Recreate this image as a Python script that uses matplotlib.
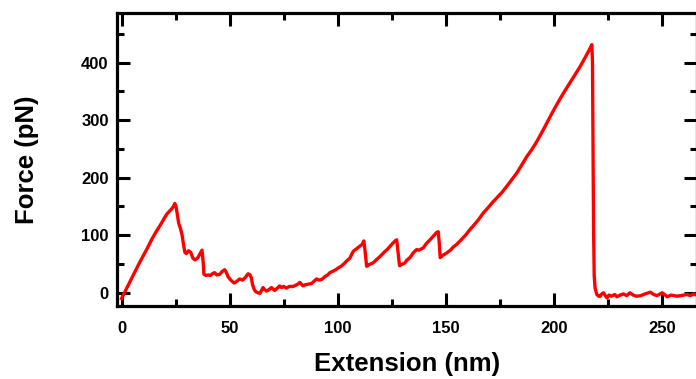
import matplotlib
matplotlib.use("Agg")
import matplotlib.pyplot as plt
from matplotlib.ticker import MultipleLocator

# Extension (nm) and Force (pN)
extension = [0, 2, 4, 6, 8, 10, 12, 14, 16, 18, 20, 21, 22, 23, 24, 24.6,
             25.2, 25.8, 26.4, 27.2, 28, 28.6, 29.3, 30, 31, 32, 33, 34, 35.3, 36.3, 37.2, 37.7,
             38.1, 39, 40, 41, 42, 43, 44, 45.4, 46.5, 47.7, 48.5, 49.2, 50.5, 52, 53, 54.6,
             56, 57.3, 58.5, 59.4, 60, 60.5, 61.3, 62, 63, 64, 65.4, 66, 67, 68, 69.3, 70.8,
             72, 73.1, 74, 75, 76.2, 77.5, 79.3, 80.5, 81.5, 82.4, 83.9, 85, 86.5, 87.8, 89,
             90.1, 91.3, 92.5, 94, 95.3, 96.3, 97.5, 99, 100.1, 101.5, 103, 104, 105.5, 107.1,
             108.5, 110.2, 111.2, 112, 112.5, 113.3, 114.5, 116.3, 118, 119.5, 121, 123, 124.9,
             126.4, 127.2, 127.7, 128.5, 130, 131, 132, 133.3, 135, 136.4, 137.5, 139.5, 141,
             142.6, 144, 145.7, 146.4, 146.9, 147.3, 148.5, 150.3, 152, 153.5, 154.9, 157, 159,
             161.1, 163, 165, 167.3, 169.5, 171.5, 173.5, 176, 178.1, 180.5, 182.7, 185, 187.4,
             189.7, 192, 194.5, 196.6, 199, 201.5, 204.3, 207, 209.5, 212, 214.5, 216.5, 217.4,
             217.7, 217.9, 218.2, 218.5, 218.9, 219.7, 220.5, 221.3, 222, 222.8, 223.6, 224.4,
             225.3, 226.5, 228, 229, 230.5, 232, 233.5, 235, 236.5, 238, 240, 242, 244.4, 246,
             247.5, 249.9, 251, 252.2, 254, 256.8, 258.5, 260, 261.4, 263, 264.5, 266]
force = [-10, 5, 20, 35, 50, 64, 78, 93, 106, 118, 131, 137, 141, 145, 150, 155,
         150, 135, 121, 112, 100, 85, 70, 68, 73, 70, 60, 57, 61, 68, 74, 55,
         32, 30, 31, 30, 33, 35, 31, 32, 37, 40, 35, 28, 22, 17, 19, 24,
         22, 27, 33, 31, 26, 15, 6, 2, 0, -1, 9, 6, 3, 5, 9, 4,
         8, 12, 9, 11, 8, 11, 11, 13, 15, 18, 12, 14, 15, 16, 20,
         24, 22, 23, 28, 31, 35, 37, 40, 43, 46, 51, 55, 60, 72,
         76, 81, 84, 90, 75, 46, 49, 52, 58, 63, 69, 76, 84,
         90, 92, 75, 47, 50, 52, 57, 61, 70, 75, 74, 78, 86,
         92, 98, 105, 106, 85, 61, 65, 69, 74, 80, 84, 92, 100,
         110, 118, 127, 139, 148, 157, 165, 175, 185, 197, 208, 222, 237,
         249, 263, 280, 295, 312, 329, 347, 363, 378, 393, 410, 424, 431,
         400, 284, 110, 29, 8, -3, -6, -6, -2, 0, -5, -9,
         -4, -6, -3, -7, -4, -2, -5, 0, -4, -6, -5, -2, 1, -3,
         -5, 0, -3, -7, -4, -6, -5, -4, -3, -5, -2, -4]

xticks = [0, 50, 100, 150, 200, 250]
yticks = [0, 100, 200, 300, 400]

plt.rcParams['font.family'] = ['Liberation Sans', 'DejaVu Sans']
plt.rcParams['font.weight'] = 'bold'

fig = plt.figure(figsize=(6.96, 3.79), dpi=100)
ax = fig.add_axes([0.1681, 0.1926, 0.8333, 0.7731])
ax.plot(extension, force, color='#ff0000', lw=2.4, solid_joinstyle='round')

ax.set_xlim(-2.1, 266)
ax.set_ylim(-23, 486)
ax.set_xticks(xticks)
ax.set_yticks(yticks)
ax.xaxis.set_minor_locator(MultipleLocator(25))
ax.yaxis.set_minor_locator(MultipleLocator(50))
for s in ax.spines.values():
    s.set_linewidth(2.3)
ax.tick_params(which='both', direction='in', top=True, right=True, width=2.2,
               labelsize=12)
ax.tick_params(which='major', length=9.5)
ax.tick_params(which='minor', length=5)
ax.tick_params(axis='x', which='major', pad=11)
ax.tick_params(axis='y', which='major', pad=6)
for lab in ax.get_xticklabels() + ax.get_yticklabels():
    lab.set_fontweight('bold')

ax.set_xlabel('Extension (nm)', fontsize=18.5, fontweight='bold', labelpad=11)
ax.set_ylabel('Force (pN)', fontsize=18.5, fontweight='bold', labelpad=30)

fig.savefig('out.png', dpi=100)
